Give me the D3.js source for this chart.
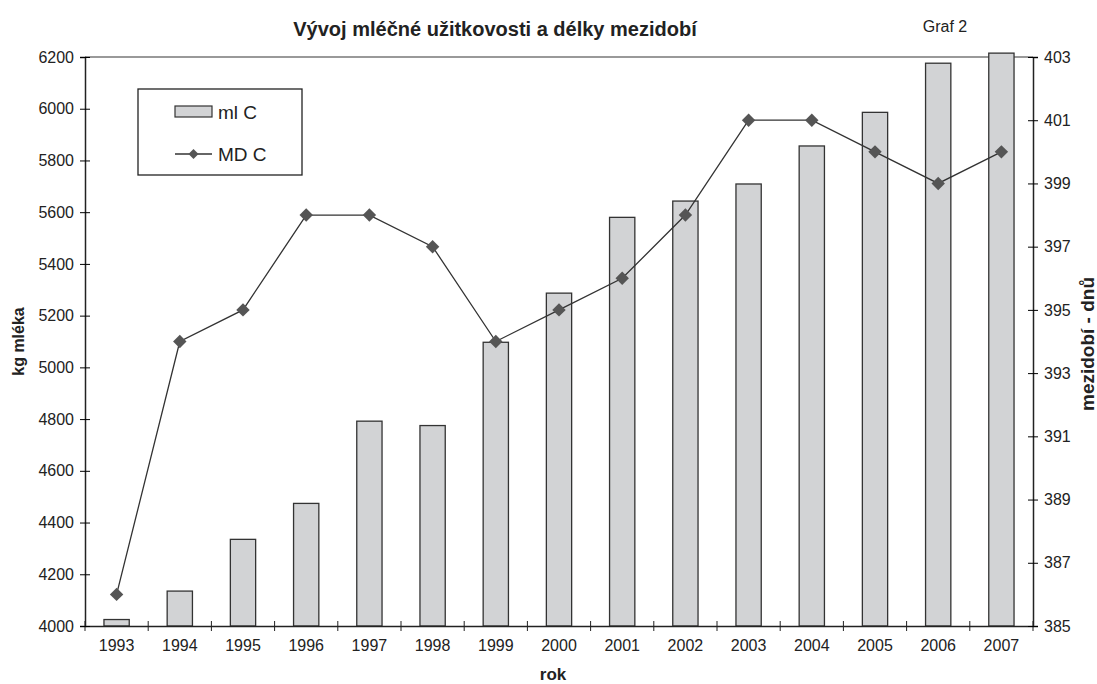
<!DOCTYPE html>
<html>
<head>
<meta charset="utf-8">
<script src="https://cdn.jsdelivr.net/npm/d3@7"></script>
<style>
  body { margin: 0; background: #fff; }
  text { font-family: "Liberation Sans", Arial, sans-serif; fill: #222; }
</style>
</head>
<body>
<svg id="chart"></svg>
<script>
var years = ["1993", "1994", "1995", "1996", "1997", "1998", "1999", "2000",
  "2001", "2002", "2003", "2004", "2005", "2006", "2007"];
var mlC = [4025, 4135, 4335, 4474, 4792, 4775, 5097, 5287, 5580, 5643, 5709, 5856, 5986, 6176, 6215];
var mdC = [386, 394, 395, 398, 398, 397, 394, 395, 396, 398, 401, 401, 400, 399, 400];
var leftTicks = [4000, 4200, 4400, 4600, 4800, 5000, 5200, 5400, 5600, 5800, 6000, 6200];
var rightTicks = [385, 387, 389, 391, 393, 395, 397, 399, 401, 403];

var width = 1097;
var height = 684;
var margin = { top: 57, right: 64, bottom: 58, left: 85 };
var innerW = width - margin.left - margin.right;
var innerH = height - margin.top - margin.bottom;

var svg = d3.select("#chart").attr("width", width).attr("height", height);
var g = svg.append("g")
  .attr("transform", "translate(" + margin.left + "," + margin.top + ")");

var x = d3.scaleBand().domain(years).range([0, innerW]).paddingInner(0.6).paddingOuter(0.3);
var xBand = d3.scaleBand().domain(years).range([0, innerW]);
var yL = d3.scaleLinear().domain([4000, 6200]).range([innerH, 0]);
var yR = d3.scaleLinear().domain([385, 403]).range([innerH, 0]);

// plot area top border
g.append("line")
  .attr("x1", 0).attr("x2", innerW)
  .attr("y1", 0).attr("y2", 0)
  .attr("stroke", "#777").attr("stroke-width", 1.5);

// bars
g.selectAll(".bar")
  .data(mlC)
  .enter()
  .append("rect")
  .attr("class", "bar")
  .attr("x", function (d, i) { return x(years[i]); })
  .attr("width", x.bandwidth())
  .attr("y", function (d) { return yL(d); })
  .attr("height", function (d) { return innerH - yL(d); })
  .attr("fill", "#d2d3d5")
  .attr("stroke", "#333")
  .attr("stroke-width", 1.3);

// line
var line = d3.line()
  .x(function (d, i) { return xBand(years[i]) + xBand.bandwidth() / 2; })
  .y(function (d) { return yR(d); });

g.append("path")
  .datum(mdC)
  .attr("d", line)
  .attr("fill", "none")
  .attr("stroke", "#333")
  .attr("stroke-width", 1.3);

var diamond = d3.symbol().type(d3.symbolSquare).size(90);
g.selectAll(".pt")
  .data(mdC)
  .enter()
  .append("path")
  .attr("class", "pt")
  .attr("d", diamond)
  .attr("transform", function (d, i) {
    return "translate(" + (xBand(years[i]) + xBand.bandwidth() / 2) + "," + yR(d) + ")rotate(45)";
  })
  .attr("fill", "#555");

// axes
var xAxis = g.append("g")
  .attr("transform", "translate(0," + innerH + ")")
  .call(d3.axisBottom(xBand).tickSize(0).tickPadding(14));
xAxis.selectAll("text").style("font-size", "16px");
xAxis.select(".domain").attr("stroke", "#222").attr("stroke-width", 1.5);
xAxis.selectAll(".xt")
  .data(d3.range(years.length + 1))
  .enter()
  .append("line")
  .attr("class", "xt")
  .attr("x1", function (d) { return d * xBand.step(); })
  .attr("x2", function (d) { return d * xBand.step(); })
  .attr("y1", -5).attr("y2", 5)
  .attr("stroke", "#222");

var leftAxis = g.append("g")
  .call(d3.axisLeft(yL).tickValues(leftTicks).tickFormat(d3.format("d")).tickSize(5).tickPadding(6));
leftAxis.selectAll("text").style("font-size", "16px");
leftAxis.selectAll(".tick line").attr("x2", 5).attr("x1", -5);
leftAxis.select(".domain").attr("stroke", "#222").attr("stroke-width", 1.5);

var rightAxis = g.append("g")
  .attr("transform", "translate(" + innerW + ",0)")
  .call(d3.axisRight(yR).tickValues(rightTicks).tickSize(5).tickPadding(6));
rightAxis.selectAll("text").style("font-size", "16px");
rightAxis.selectAll(".tick line").attr("x1", -5).attr("x2", 5);
rightAxis.select(".domain").attr("stroke", "#222").attr("stroke-width", 1.5);

// titles
svg.append("text")
  .attr("x", 495).attr("y", 36)
  .attr("text-anchor", "middle")
  .style("font-size", "20px").style("font-weight", "bold")
  .text("Vývoj mléčné užitkovosti a délky mezidobí");

svg.append("text")
  .attr("x", 945).attr("y", 32)
  .attr("text-anchor", "middle")
  .style("font-size", "16px")
  .text("Graf 2");

svg.append("text")
  .attr("transform", "translate(24," + (margin.top + innerH / 2) + ")rotate(-90)")
  .attr("text-anchor", "middle")
  .style("font-size", "16px").style("font-weight", "bold")
  .text("kg mléka");

svg.append("text")
  .attr("transform", "translate(1094,344)rotate(-90)")
  .attr("text-anchor", "middle")
  .style("font-size", "19px").style("font-weight", "bold")
  .text("mezidobí - dnů");

svg.append("text")
  .attr("x", 553).attr("y", 680)
  .attr("text-anchor", "middle")
  .style("font-size", "17px").style("font-weight", "bold")
  .text("rok");

// legend
var lg = svg.append("g").attr("transform", "translate(138,89)");
lg.append("rect")
  .attr("width", 164).attr("height", 86)
  .attr("fill", "#fff").attr("stroke", "#222").attr("stroke-width", 1.3);
lg.append("rect")
  .attr("x", 37).attr("y", 17).attr("width", 37).attr("height", 11)
  .attr("fill", "#d2d3d5").attr("stroke", "#333").attr("stroke-width", 1.2);
lg.append("text")
  .attr("x", 80).attr("y", 30)
  .style("font-size", "19px")
  .text("ml C");
lg.append("line")
  .attr("x1", 37).attr("x2", 74).attr("y1", 65).attr("y2", 65)
  .attr("stroke", "#333").attr("stroke-width", 1.3);
lg.append("path")
  .attr("d", d3.symbol().type(d3.symbolSquare).size(50))
  .attr("transform", "translate(55.5,65)rotate(45)")
  .attr("fill", "#555");
lg.append("text")
  .attr("x", 80).attr("y", 72)
  .style("font-size", "19px")
  .text("MD C");
</script>
</body>
</html>
